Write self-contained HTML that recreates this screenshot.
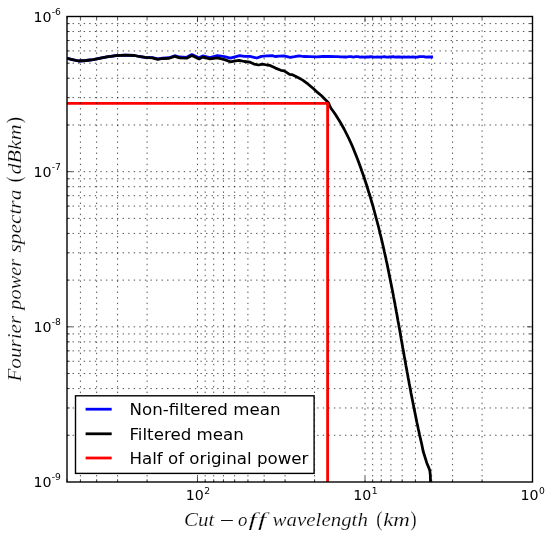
<!DOCTYPE html>
<html><head><meta charset="utf-8"><style>
html,body{margin:0;padding:0;background:#fff;}
svg{display:block;}
.tk{font-family:"DejaVu Sans","Liberation Sans",sans-serif;fill:#000;}
.lab{font-family:"Liberation Serif","DejaVu Serif",serif;font-style:italic;fill:#000;font-variant-ligatures:none;stroke:#fff;stroke-width:0.2px;paint-order:fill;}
.mn{stroke:none;}
</style></head><body>
<svg width="550" height="537" viewBox="0 0 550 537">
<defs><clipPath id="ax"><rect x="67.0" y="16.5" width="465.5" height="465.5"/></clipPath></defs>
<rect x="0" y="0" width="550" height="537" fill="#fff"/>
<g clip-path="url(#ax)" fill="none" stroke-width="2.78" stroke-linejoin="round">
<polyline stroke="#0000ff" stroke-linecap="square" points="60.0,58.2 67.0,58.4 72.4,59.6 78.7,61.0 86.0,60.5 93.3,59.6 100.5,58.2 106.9,56.9 116.0,55.6 125.1,55.1 134.2,55.5 139.6,56.5 145.1,57.3 152.4,57.6 157.8,58.9 162.4,58.1 169.1,57.7 174.7,55.7 179.5,57.0 186.7,57.3 191.8,54.6 199.1,57.8 202.7,55.9 210.0,57.6 217.3,55.5 224.5,56.6 230.4,58.2 234.0,57.1 239.8,55.6 244.2,56.4 250.0,56.4 256.8,58.0 261.4,56.4 266.8,55.9 272.3,55.7 275.0,56.5 279.4,56.2 283.7,55.9 290.3,57.4 294.6,56.7 299.0,55.8 303.4,56.5 309.9,56.7 316.5,56.9 323.0,56.5 329.5,56.4 335.0,56.7 338.0,56.7 340.2,56.9 342.4,56.8 344.6,57.0 346.8,57.0 349.0,56.6 351.2,56.6 353.4,57.1 355.6,56.7 357.8,56.7 360.0,57.2 362.2,56.9 364.4,57.1 366.6,56.9 368.8,57.0 371.0,56.7 373.2,57.0 375.4,57.2 377.6,56.9 379.8,57.1 382.0,57.0 384.2,56.6 386.4,57.1 388.6,57.0 390.8,56.8 393.0,56.6 395.2,57.2 397.4,56.9 399.6,57.0 401.8,57.2 404.0,57.0 406.2,57.2 408.4,56.8 410.6,57.1 412.8,56.9 415.0,57.2 417.2,57.2 419.4,56.6 421.6,56.6 423.8,56.7 426.0,57.2 428.2,56.9 430.4,57.0 431.7,56.9"/>
<polyline stroke="#000000" points="60.0,58.2 67.0,58.4 72.4,59.6 78.7,61.0 86.0,60.5 93.3,59.6 100.5,58.2 106.9,56.9 116.0,55.6 125.1,55.1 134.2,55.5 139.6,56.5 145.1,57.4 152.4,57.8 157.8,59.3 162.4,58.5 169.1,58.3 174.7,56.4 179.5,57.8 186.7,58.2 191.8,55.6 199.1,58.9 202.7,57.1 210.0,58.9 217.3,57.8 224.5,59.6 230.4,61.8 234.0,61.1 239.1,60.4 244.2,61.5 250.0,62.2 254.1,64.1 258.6,65.0 262.3,64.1 266.8,65.0 270.0,65.4 275.5,68.1 280.9,70.3 284.2,70.8 289.6,74.4 292.9,74.9 298.4,77.7 302.7,80.1 308.2,84.2 313.6,88.8 317.5,92.4 321.5,95.7 325.2,99.5 328.2,102.4 330.8,108.0 333.0,111.0 335.1,114.0 337.0,117.0 338.9,120.0 340.7,123.0 342.4,126.0 344.1,129.0 345.6,132.0 347.1,135.0 348.6,138.0 350.0,141.0 351.4,144.0 352.7,147.0 353.9,150.0 355.1,153.0 356.3,156.0 357.5,159.0 358.6,162.0 359.7,165.0 360.8,168.0 361.8,171.0 362.9,174.0 363.9,177.0 364.9,180.0 365.9,183.0 366.9,186.0 367.8,189.0 368.7,192.0 369.7,195.0 370.6,198.0 371.4,201.0 372.3,204.0 373.2,207.0 374.0,210.0 374.8,213.0 375.6,216.0 376.4,219.0 377.2,222.0 378.0,225.0 378.8,228.0 379.5,231.0 380.2,234.0 381.0,237.0 381.7,240.0 382.4,243.0 383.1,246.0 383.8,249.0 384.4,252.0 385.1,255.0 385.8,258.0 386.4,261.0 387.1,264.0 387.7,267.0 388.3,270.0 388.9,273.0 389.5,276.0 390.1,279.0 390.7,282.0 391.3,285.0 391.9,288.0 392.5,291.0 393.1,294.0 393.6,297.0 394.2,300.0 394.8,303.0 395.3,306.0 395.9,309.0 396.4,312.0 397.0,315.0 397.5,318.0 398.0,321.0 398.6,324.0 399.1,327.0 399.7,330.0 400.2,333.0 400.7,336.0 401.2,339.0 401.8,342.0 402.3,345.0 402.8,348.0 403.4,351.0 403.9,354.0 404.4,357.0 405.0,360.0 405.5,363.0 406.0,366.0 406.6,369.0 407.1,372.0 407.7,375.0 408.2,378.0 408.8,381.0 409.3,384.0 409.9,387.0 410.5,390.0 411.0,393.0 411.6,396.0 412.2,399.0 412.8,402.0 413.4,405.0 414.0,408.0 414.6,411.0 415.2,414.0 415.8,417.0 416.4,420.0 417.0,423.0 417.7,426.0 418.3,429.0 419.0,432.0 419.6,435.0 420.3,438.0 421.0,441.0 421.7,444.0 423.1,451.0 424.9,456.9 426.8,462.9 428.7,467.6 429.8,470.6 430.3,474.8 430.5,480.8 430.6,530.0"/>
<polyline stroke="#ff0000" stroke-linecap="square" points="62.0,103.4 327.6,103.4 327.6,487.0"/>
</g>
<g stroke="#000" stroke-width="0.69" stroke-dasharray="1.39 4.17" fill="none">
<line x1="80.42" y1="482.0" x2="80.42" y2="16.5"/>
<line x1="96.65" y1="482.0" x2="96.65" y2="16.5"/>
<line x1="117.58" y1="482.0" x2="117.58" y2="16.5"/>
<line x1="147.08" y1="482.0" x2="147.08" y2="16.5"/>
<line x1="205.16" y1="482.0" x2="205.16" y2="16.5"/>
<line x1="213.73" y1="482.0" x2="213.73" y2="16.5"/>
<line x1="223.45" y1="482.0" x2="223.45" y2="16.5"/>
<line x1="234.66" y1="482.0" x2="234.66" y2="16.5"/>
<line x1="247.92" y1="482.0" x2="247.92" y2="16.5"/>
<line x1="264.15" y1="482.0" x2="264.15" y2="16.5"/>
<line x1="285.08" y1="482.0" x2="285.08" y2="16.5"/>
<line x1="314.58" y1="482.0" x2="314.58" y2="16.5"/>
<line x1="372.66" y1="482.0" x2="372.66" y2="16.5"/>
<line x1="381.23" y1="482.0" x2="381.23" y2="16.5"/>
<line x1="390.95" y1="482.0" x2="390.95" y2="16.5"/>
<line x1="402.16" y1="482.0" x2="402.16" y2="16.5"/>
<line x1="415.42" y1="482.0" x2="415.42" y2="16.5"/>
<line x1="431.65" y1="482.0" x2="431.65" y2="16.5"/>
<line x1="452.58" y1="482.0" x2="452.58" y2="16.5"/>
<line x1="482.08" y1="482.0" x2="482.08" y2="16.5"/>
<line x1="197.50" y1="482.0" x2="197.50" y2="16.5"/>
<line x1="365.00" y1="482.0" x2="365.00" y2="16.5"/>
<line x1="67.0" y1="124.96" x2="532.5" y2="124.96"/>
<line x1="67.0" y1="97.63" x2="532.5" y2="97.63"/>
<line x1="67.0" y1="78.25" x2="532.5" y2="78.25"/>
<line x1="67.0" y1="63.21" x2="532.5" y2="63.21"/>
<line x1="67.0" y1="50.92" x2="532.5" y2="50.92"/>
<line x1="67.0" y1="40.54" x2="532.5" y2="40.54"/>
<line x1="67.0" y1="31.54" x2="532.5" y2="31.54"/>
<line x1="67.0" y1="23.60" x2="532.5" y2="23.60"/>
<line x1="67.0" y1="280.12" x2="532.5" y2="280.12"/>
<line x1="67.0" y1="252.80" x2="532.5" y2="252.80"/>
<line x1="67.0" y1="233.41" x2="532.5" y2="233.41"/>
<line x1="67.0" y1="218.38" x2="532.5" y2="218.38"/>
<line x1="67.0" y1="206.09" x2="532.5" y2="206.09"/>
<line x1="67.0" y1="195.70" x2="532.5" y2="195.70"/>
<line x1="67.0" y1="186.70" x2="532.5" y2="186.70"/>
<line x1="67.0" y1="178.77" x2="532.5" y2="178.77"/>
<line x1="67.0" y1="435.29" x2="532.5" y2="435.29"/>
<line x1="67.0" y1="407.97" x2="532.5" y2="407.97"/>
<line x1="67.0" y1="388.58" x2="532.5" y2="388.58"/>
<line x1="67.0" y1="373.54" x2="532.5" y2="373.54"/>
<line x1="67.0" y1="361.26" x2="532.5" y2="361.26"/>
<line x1="67.0" y1="350.87" x2="532.5" y2="350.87"/>
<line x1="67.0" y1="341.87" x2="532.5" y2="341.87"/>
<line x1="67.0" y1="333.93" x2="532.5" y2="333.93"/>
<line x1="67.0" y1="171.67" x2="532.5" y2="171.67"/>
<line x1="67.0" y1="326.83" x2="532.5" y2="326.83"/>
</g>
<path d="M197.50 482.0v-5.56M197.50 16.5v5.56M365.00 482.0v-5.56M365.00 16.5v5.56M67.16 482.0v-2.78M67.16 16.5v2.78M80.42 482.0v-2.78M80.42 16.5v2.78M96.65 482.0v-2.78M96.65 16.5v2.78M117.58 482.0v-2.78M117.58 16.5v2.78M147.08 482.0v-2.78M147.08 16.5v2.78M205.16 482.0v-2.78M205.16 16.5v2.78M213.73 482.0v-2.78M213.73 16.5v2.78M223.45 482.0v-2.78M223.45 16.5v2.78M234.66 482.0v-2.78M234.66 16.5v2.78M247.92 482.0v-2.78M247.92 16.5v2.78M264.15 482.0v-2.78M264.15 16.5v2.78M285.08 482.0v-2.78M285.08 16.5v2.78M314.58 482.0v-2.78M314.58 16.5v2.78M372.66 482.0v-2.78M372.66 16.5v2.78M381.23 482.0v-2.78M381.23 16.5v2.78M390.95 482.0v-2.78M390.95 16.5v2.78M402.16 482.0v-2.78M402.16 16.5v2.78M415.42 482.0v-2.78M415.42 16.5v2.78M431.65 482.0v-2.78M431.65 16.5v2.78M452.58 482.0v-2.78M452.58 16.5v2.78M482.08 482.0v-2.78M482.08 16.5v2.78M67.0 171.67h5.56M532.5 171.67h-5.56M67.0 326.83h5.56M532.5 326.83h-5.56M67.0 124.96h2.78M532.5 124.96h-2.78M67.0 97.63h2.78M532.5 97.63h-2.78M67.0 78.25h2.78M532.5 78.25h-2.78M67.0 63.21h2.78M532.5 63.21h-2.78M67.0 50.92h2.78M532.5 50.92h-2.78M67.0 40.54h2.78M532.5 40.54h-2.78M67.0 31.54h2.78M532.5 31.54h-2.78M67.0 23.60h2.78M532.5 23.60h-2.78M67.0 280.12h2.78M532.5 280.12h-2.78M67.0 252.80h2.78M532.5 252.80h-2.78M67.0 233.41h2.78M532.5 233.41h-2.78M67.0 218.38h2.78M532.5 218.38h-2.78M67.0 206.09h2.78M532.5 206.09h-2.78M67.0 195.70h2.78M532.5 195.70h-2.78M67.0 186.70h2.78M532.5 186.70h-2.78M67.0 178.77h2.78M532.5 178.77h-2.78M67.0 435.29h2.78M532.5 435.29h-2.78M67.0 407.97h2.78M532.5 407.97h-2.78M67.0 388.58h2.78M532.5 388.58h-2.78M67.0 373.54h2.78M532.5 373.54h-2.78M67.0 361.26h2.78M532.5 361.26h-2.78M67.0 350.87h2.78M532.5 350.87h-2.78M67.0 341.87h2.78M532.5 341.87h-2.78M67.0 333.93h2.78M532.5 333.93h-2.78" stroke="#000" stroke-width="0.69" fill="none"/>
<rect x="67.0" y="16.5" width="465.5" height="465.5" fill="none" stroke="#000" stroke-width="1.39"/>
<g>
<rect x="75.5" y="395.8" width="238.6" height="77.6" fill="#fff" stroke="#000" stroke-width="1.39"/>
<line x1="85.6" y1="409.2" x2="111.7" y2="409.2" stroke="#0000ff" stroke-width="2.78"/>
<line x1="85.6" y1="433.8" x2="111.7" y2="433.8" stroke="#000000" stroke-width="2.78"/>
<line x1="85.6" y1="458.0" x2="111.7" y2="458.0" stroke="#ff0000" stroke-width="2.78"/>
<text class="tk" x="129.5" y="415.2" font-size="16.67">Non-filtered mean</text>
<text class="tk" x="129.5" y="439.8" font-size="16.67">Filtered mean</text>
<text class="tk" x="129.5" y="464.4" font-size="16.67">Half of original power</text>
</g>
<g class="tk" font-size="14.2">
<text x="185.8" y="500.3">10</text><text x="204.2" y="494" font-size="9.2">2</text>
<text x="353.2" y="500.3">10</text><text x="371.7" y="494" font-size="9.2">1</text>
<text x="520.6" y="500.3">10</text><text x="539.1" y="494" font-size="9.2">0</text>
<text x="33.6" y="21.7">10</text><text x="51.7" y="14.5" font-size="9.2">-6</text>
<text x="33.6" y="176.8">10</text><text x="51.7" y="169.6" font-size="9.2">-7</text>
<text x="33.6" y="331.9">10</text><text x="51.7" y="324.7" font-size="9.2">-8</text>
<text x="33.6" y="487.2">10</text><text x="51.7" y="480.0" font-size="9.2">-9</text>
</g>
<text class="lab" x="184.02" y="526.0" font-size="19" font-style="italic" style="font-style:italic" textLength="30.35" lengthAdjust="spacingAndGlyphs">Cut</text>
<text class="lab mn" x="219.66" y="527.0" font-size="19" font-style="normal" style="font-style:normal" textLength="14.37" lengthAdjust="spacingAndGlyphs">−</text>
<text class="lab" x="237.91" y="526.0" font-size="19" font-style="italic" style="font-style:italic" textLength="9.38" lengthAdjust="spacingAndGlyphs">o</text>
<text class="lab" x="248.42" y="526.0" font-size="19" font-style="italic" style="font-style:italic" textLength="8.22" lengthAdjust="spacingAndGlyphs">f</text>
<text class="lab" x="258.02" y="526.0" font-size="19" font-style="italic" style="font-style:italic" textLength="8.22" lengthAdjust="spacingAndGlyphs">f</text>
<text class="lab" x="272.60" y="526.0" font-size="19" font-style="italic" style="font-style:italic" textLength="95.30" lengthAdjust="spacingAndGlyphs">wavelength</text>
<text class="lab" x="376.32" y="525.8" font-size="21" font-style="normal" style="font-style:normal" textLength="6.20" lengthAdjust="spacingAndGlyphs">(</text>
<text class="lab" x="383.16" y="526.0" font-size="19" font-style="italic" style="font-style:italic" textLength="26.75" lengthAdjust="spacingAndGlyphs">km</text>
<text class="lab" x="410.52" y="525.8" font-size="21" font-style="normal" style="font-style:normal" textLength="6.07" lengthAdjust="spacingAndGlyphs">)</text>
<text class="lab" transform="translate(20.9,381.0) rotate(-90)" x="-0.59" y="0" font-size="19" style="font-style:italic" textLength="65.75" lengthAdjust="spacingAndGlyphs">Fourier</text>
<text class="lab" transform="translate(20.9,381.0) rotate(-90)" x="71.38" y="0" font-size="19" style="font-style:italic" textLength="50.72" lengthAdjust="spacingAndGlyphs">power</text>
<text class="lab" transform="translate(20.9,381.0) rotate(-90)" x="128.46" y="0" font-size="19" style="font-style:italic" textLength="62.89" lengthAdjust="spacingAndGlyphs">spectra</text>
<text class="lab" transform="translate(20.9,381.0) rotate(-90)" x="198.65" y="-0.2" font-size="21" style="font-style:normal" textLength="5.94" lengthAdjust="spacingAndGlyphs">(</text>
<text class="lab" transform="translate(20.9,381.0) rotate(-90)" x="206.54" y="0" font-size="19" style="font-style:italic" textLength="50.13" lengthAdjust="spacingAndGlyphs">dBkm</text>
<text class="lab" transform="translate(20.9,381.0) rotate(-90)" x="257.48" y="-0.2" font-size="21" style="font-style:normal" textLength="6.59" lengthAdjust="spacingAndGlyphs">)</text>
</svg>
</body></html>
